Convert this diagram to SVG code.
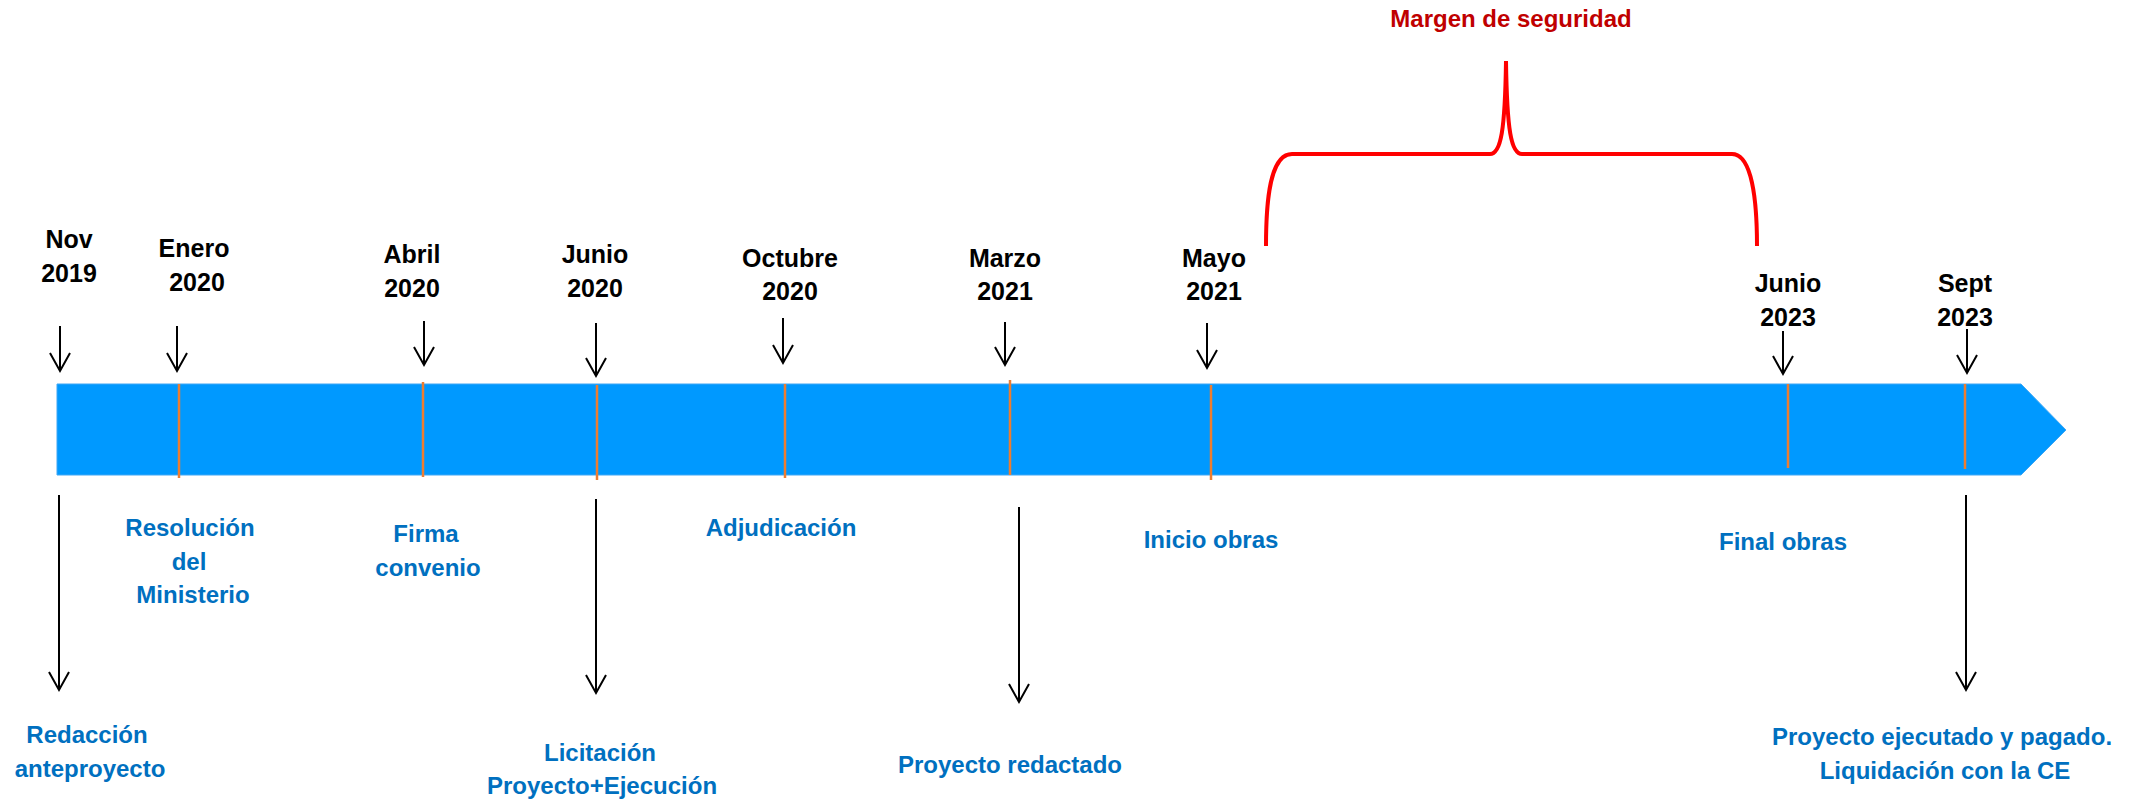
<svg xmlns="http://www.w3.org/2000/svg" width="2138" height="802" viewBox="0 0 2138 802">
<defs>
<style>
.date{font-family:"Liberation Sans",Arial,sans-serif;font-weight:bold;font-size:25px;fill:#000;text-anchor:middle}
.lbl{font-family:"Liberation Sans",Arial,sans-serif;font-weight:bold;font-size:24px;fill:#0070C0;text-anchor:middle}
.title{font-family:"Liberation Sans",Arial,sans-serif;font-weight:bold;font-size:24px;fill:#C00000;text-anchor:middle}
.tick{stroke:#ED7D31;stroke-width:2.5;fill:none}
.arr{stroke:#000;stroke-width:2;fill:none;marker-end:url(#v)}
</style>
<marker id="v" markerUnits="userSpaceOnUse" viewBox="-21 -12 24 24" markerWidth="24" markerHeight="24" refX="0" refY="0" orient="auto">
<path d="M-18,-10 L0,0 L-18,10" fill="none" stroke="#000" stroke-width="2"/>
</marker>
</defs>
<rect width="2138" height="802" fill="#fff"/>

<g id="timeline-bar">
<polygon points="57,384 2021,384 2066,430 2021,475 57,475" fill="#0099FF" stroke="#3FA7F5" stroke-width="1"/>
<line class="tick" x1="179" y1="384" x2="179" y2="478"/>
<line class="tick" x1="423" y1="382" x2="423" y2="477"/>
<line class="tick" x1="597" y1="385" x2="597" y2="480"/>
<line class="tick" x1="785" y1="384" x2="785" y2="478"/>
<line class="tick" x1="1010" y1="380" x2="1010" y2="475"/>
<line class="tick" x1="1211" y1="385" x2="1211" y2="480"/>
<line class="tick" x1="1788" y1="384" x2="1788" y2="468"/>
<line class="tick" x1="1965" y1="384" x2="1965" y2="469"/>
</g>

<g id="connectors">
<line class="arr" x1="60" y1="326" x2="60" y2="371"/>
<line class="arr" x1="177" y1="326" x2="177" y2="371"/>
<line class="arr" x1="424" y1="321" x2="424" y2="365"/>
<line class="arr" x1="596" y1="323" x2="596" y2="376"/>
<line class="arr" x1="783" y1="318" x2="783" y2="363"/>
<line class="arr" x1="1005" y1="322" x2="1005" y2="365"/>
<line class="arr" x1="1207" y1="323" x2="1207" y2="368"/>
<line class="arr" x1="1783" y1="331" x2="1783" y2="374"/>
<line class="arr" x1="1967" y1="329" x2="1967" y2="373"/>
<line class="arr" x1="59" y1="495" x2="59" y2="690"/>
<line class="arr" x1="596" y1="499" x2="596" y2="693"/>
<line class="arr" x1="1019" y1="507" x2="1019" y2="702"/>
<line class="arr" x1="1966" y1="495" x2="1966" y2="690"/>
</g>

<g id="brace">
<path d="M1266,246 C1266,200 1270,154 1292,154 L1490,154 C1501,154 1505,130 1506,61 C1507,130 1511,154 1522,154 L1732,154 C1752,154 1757,200 1757,246" fill="none" stroke="#FF0000" stroke-width="4"/>
<text class="title" x="1511" y="27">Margen de seguridad</text>
</g>

<g id="d-nov2019"><text class="date" x="69" y="248">Nov</text><text class="date" x="69" y="282">2019</text></g>
<g id="d-ene2020"><text class="date" x="194" y="257">Enero</text><text class="date" x="197" y="291">2020</text></g>
<g id="d-abr2020"><text class="date" x="412" y="263">Abril</text><text class="date" x="412" y="297">2020</text></g>
<g id="d-jun2020"><text class="date" x="595" y="263">Junio</text><text class="date" x="595" y="297">2020</text></g>
<g id="d-oct2020"><text class="date" x="790" y="267">Octubre</text><text class="date" x="790" y="300">2020</text></g>
<g id="d-mar2021"><text class="date" x="1005" y="267">Marzo</text><text class="date" x="1005" y="300">2021</text></g>
<g id="d-may2021"><text class="date" x="1214" y="267">Mayo</text><text class="date" x="1214" y="300">2021</text></g>
<g id="d-jun2023"><text class="date" x="1788" y="292">Junio</text><text class="date" x="1788" y="326">2023</text></g>
<g id="d-sep2023"><text class="date" x="1965" y="292">Sept</text><text class="date" x="1965" y="326">2023</text></g>

<g id="e-redaccion"><text class="lbl" x="87" y="743">Redacción</text><text class="lbl" x="90" y="777">anteproyecto</text></g>
<g id="e-resolucion"><text class="lbl" x="190" y="536">Resolución</text><text class="lbl" x="189" y="570">del</text><text class="lbl" x="193" y="603">Ministerio</text></g>
<g id="e-firma"><text class="lbl" x="426" y="542">Firma</text><text class="lbl" x="428" y="576">convenio</text></g>
<g id="e-licitacion"><text class="lbl" x="600" y="761">Licitación</text><text class="lbl" x="602" y="794">Proyecto+Ejecución</text></g>
<g id="e-adjudicacion"><text class="lbl" x="781" y="536">Adjudicación</text></g>
<g id="e-redactado"><text class="lbl" x="1010" y="773">Proyecto redactado</text></g>
<g id="e-inicio"><text class="lbl" x="1211" y="548">Inicio obras</text></g>
<g id="e-final"><text class="lbl" x="1783" y="550">Final obras</text></g>
<g id="e-ejecutado"><text class="lbl" x="1942" y="745">Proyecto ejecutado y pagado.</text><text class="lbl" x="1945" y="779">Liquidación con la CE</text></g>
</svg>
